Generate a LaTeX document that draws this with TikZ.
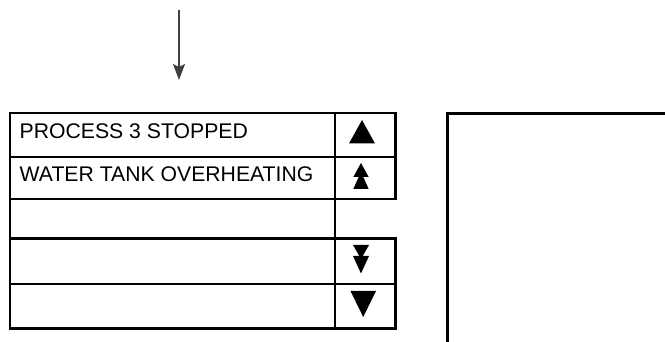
\documentclass[tikz,border=0pt]{standalone}
\usepackage{fontspec}
\setmainfont{Liberation Sans}
\usetikzlibrary{arrows.meta}
\begin{document}
\begin{tikzpicture}[x=1pt,y=-1pt,
  cell/.style={draw,line width=2.2pt,inner sep=0,outer sep=0,anchor=north west},
  lbl/.style={anchor=base west,inner sep=0,font=\fontsize{21.2}{25}\selectfont},
  tri/.style={fill=black,draw=none},
  panel/.style={line width=2.8pt},
  flow/.style={-{Stealth[length=16pt,width=12pt,inset=3pt]},line width=1.5pt,draw=black!75,fill=black}]
\useasboundingbox (0,0) rectangle (665,342);
% arrow
\coordinate (a1) at (179,10);
\coordinate (a2) at (179,80);
\draw[flow] (a1) -- (a2);
% left column
\node[cell,minimum width=325pt,minimum height=44pt] (L1) at (10,113) {};
\node[cell,minimum width=325pt,minimum height=42pt] (L2) at (10,157) {};
\node[cell,minimum width=325pt,minimum height=39.5pt] (L3) at (10,199) {};
\node[cell,minimum width=325pt,minimum height=45.5pt] (L4) at (10,238.5) {};
\node[cell,minimum width=325pt,minimum height=44.5pt] (L5) at (10,284) {};
% right column
\node[cell,minimum width=60.5pt,minimum height=44pt] (R1) at (335,113) {};
\node[cell,minimum width=60.5pt,minimum height=42pt] (R2) at (335,157) {};
\node[cell,minimum width=60.5pt,minimum height=45.5pt] (R4) at (335,238.5) {};
\node[cell,minimum width=60.5pt,minimum height=44.5pt] (R5) at (335,284) {};
% texts
\node[lbl] (t1) at (19.5,138.5) {PROCESS 3 STOPPED};
\node[lbl] (t2) at (19.5,182) {WATER TANK OVERHEATING};
% triangles
\fill[tri] (362,120) -- (375,143.5) -- (349,143.5) -- cycle;
\fill[tri] (361,163) -- (368.7,177) -- (353.3,177) -- cycle;
\fill[tri] (361,172) -- (368.7,189) -- (353.3,189) -- cycle;
\fill[tri] (353,245) -- (369,245) -- (361,259) -- cycle;
\fill[tri] (353,256) -- (369,256) -- (361,273.5) -- cycle;
\fill[tri] (350.5,291) -- (376,291) -- (363.2,317) -- cycle;
% right panel
\coordinate (p1) at (447.7,342);
\coordinate (p2) at (447.7,113.3);
\coordinate (p3) at (665,113.3);
\draw[panel] (p1) -- (p2) -- (p3);
\end{tikzpicture}
\end{document}
